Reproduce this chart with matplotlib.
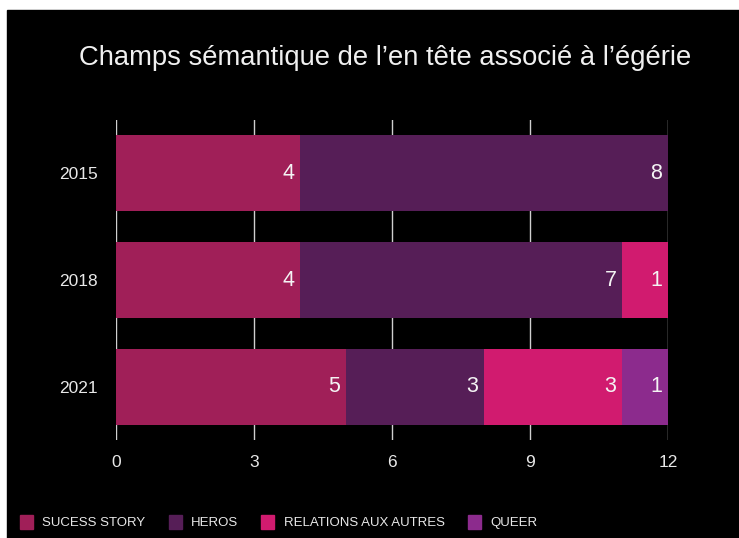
import matplotlib.pyplot as plt
import matplotlib.patches as mpatches
import numpy as np

plt.rcParams['font.family'] = ['Liberation Sans', 'DejaVu Sans']

years = ['2015', '2018', '2021']
categories = ['SUCESS STORY', 'HEROS', 'RELATIONS AUX AUTRES', 'QUEER']
success_story = [4, 4, 5]
heros = [8, 7, 3]
relations = [0, 1, 3]
queer = [0, 0, 1]
colors = ['#A01F58', '#561E57', '#D11B6F', '#8C2B8D']

series = [success_story, heros, relations, queer]

fig = plt.figure(figsize=(7.39, 5.38), dpi=100, facecolor='white')
# black panel with a thin white border top/left
fig.patches.append(mpatches.Rectangle((7 / 739, 0), 1, 1 - 10 / 538,
                                      transform=fig.transFigure, color='black', zorder=-10))

ax = fig.add_axes([116 / 739, 1 - 440 / 538, (668 - 116) / 739, 320 / 538])
ax.set_facecolor('black')

y = np.arange(len(years))
left = np.zeros(len(years))
for vals, col in zip(series, colors):
    vals = np.array(vals)
    ax.barh(y, vals, left=left, height=0.71, color=col, zorder=2)
    for yi, (l, v) in enumerate(zip(left, vals)):
        if v > 0:
            ax.annotate(str(v), (l + v, yi), xytext=(-4, 0), textcoords='offset points',
                        ha='right', va='center', color='#f4f4f4', fontsize=15.5, zorder=3)
    left += vals

ax.set_xlim(0, 12)
ax.set_ylim(2.5, -0.5)
ax.set_xticks([0, 3, 6, 9, 12])
ax.set_yticks(y)
ax.set_yticklabels(years)
ax.grid(axis='x', color='#cfcfcf', linewidth=1, zorder=1)
ax.tick_params(colors='#e8e8e8', labelsize=12.5, length=0)
ax.tick_params(axis='x', pad=11)
ax.tick_params(axis='y', pad=13)
for s in ax.spines.values():
    s.set_visible(False)

fig.text(385 / 739, 1 - 58 / 538, 'Champs sémantique de l’en tête associé à l’égérie',
         ha='center', va='center', color='#f0f0f0', fontsize=19.7)

handles = [mpatches.Patch(color=c, label=l) for c, l in zip(colors, categories)]
leg = fig.legend(handles=handles, loc='center left', bbox_to_anchor=(8 / 739, 1 - 522 / 538),
                 ncol=4, frameon=False, fontsize=9.5, handlelength=1.0, handleheight=1.3,
                 handletextpad=0.7, columnspacing=1.75, labelcolor='#e8e8e8')

fig.savefig('out.png', dpi=100, facecolor=fig.get_facecolor())
